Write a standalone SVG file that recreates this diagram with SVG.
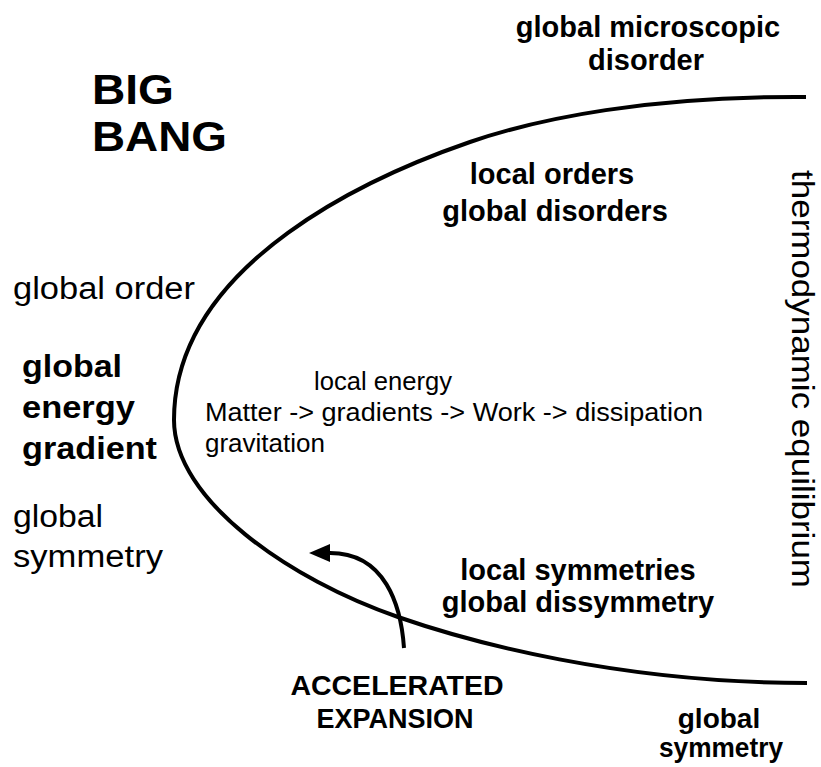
<svg xmlns="http://www.w3.org/2000/svg" width="821" height="767" viewBox="0 0 821 767">
<style>
text { font-family: "Liberation Sans", Arial, sans-serif; fill: #000; }
.b { font-weight: bold; }
.c { text-anchor: middle; }
.line { fill: none; stroke: #000; stroke-width: 4; }
</style>
<defs>
<marker id="ah" markerUnits="userSpaceOnUse" viewBox="0 -10 24 20" markerWidth="24" markerHeight="20" refX="0" refY="0" orient="auto">
<path d="M0,-9 L21,0 L0,9 z" fill="#000"/>
</marker>
</defs>
<rect width="821" height="767" fill="#fff"/>
<g id="connectors">
<path id="evolution-curve" class="line" d="M 806,97 C 650,96 540,118 470,142 C 380,173 174,260 174,420 C 174,500 290,580 398,617 C 470,642 620,683 807,683"/>
<path id="expansion-arrow" class="line" d="M 404,648 C 401,605 385,553 330,553" marker-end="url(#ah)"/>
</g>
<g id="big-bang">
<text class="b" x="92" y="104" font-size="42" textLength="82" lengthAdjust="spacingAndGlyphs">BIG</text>
<text class="b" x="92" y="151" font-size="42" textLength="135" lengthAdjust="spacingAndGlyphs">BANG</text>
</g>
<g id="global-micro-disorder">
<text class="b c" x="648" y="37" font-size="29">global microscopic</text>
<text class="b c" x="646" y="70" font-size="29">disorder</text>
</g>
<g id="local-orders">
<text class="b c" x="552" y="184" font-size="29">local orders</text>
<text class="b c" x="555" y="221" font-size="29">global disorders</text>
</g>
<g id="global-order">
<text x="13" y="299" font-size="31" textLength="182" lengthAdjust="spacingAndGlyphs">global order</text>
</g>
<g id="global-energy-gradient">
<text class="b" x="22" y="377" font-size="31" textLength="100" lengthAdjust="spacingAndGlyphs">global</text>
<text class="b" x="22" y="418" font-size="31" textLength="113" lengthAdjust="spacingAndGlyphs">energy</text>
<text class="b" x="22" y="459" font-size="31" textLength="135" lengthAdjust="spacingAndGlyphs">gradient</text>
</g>
<g id="global-symmetry-left">
<text x="13" y="527" font-size="31" textLength="90" lengthAdjust="spacingAndGlyphs">global</text>
<text x="13" y="567" font-size="31" textLength="150" lengthAdjust="spacingAndGlyphs">symmetry</text>
</g>
<g id="local-energy">
<text x="314" y="390" font-size="26" textLength="138" lengthAdjust="spacingAndGlyphs">local energy</text>
<text x="205" y="421" font-size="26" textLength="498" lengthAdjust="spacingAndGlyphs">Matter -&gt; gradients -&gt; Work -&gt; dissipation</text>
<text x="205" y="452" font-size="26" textLength="120" lengthAdjust="spacingAndGlyphs">gravitation</text>
</g>
<g id="local-symmetries">
<text class="b c" x="578" y="580" font-size="29">local symmetries</text>
<text class="b c" x="578" y="612" font-size="29">global dissymmetry</text>
</g>
<g id="accelerated-expansion">
<text class="b c" x="397" y="695" font-size="28.5">ACCELERATED</text>
<text class="b c" x="395" y="728" font-size="27">EXPANSION</text>
</g>
<g id="global-symmetry-right">
<text class="b c" x="719" y="728" font-size="28">global</text>
<text class="b c" x="721" y="757" font-size="28" textLength="124" lengthAdjust="spacingAndGlyphs">symmetry</text>
</g>
<g id="thermodynamic-equilibrium">
<text transform="translate(792,170) rotate(90)" font-size="31" textLength="418" lengthAdjust="spacingAndGlyphs">thermodynamic equilibrium</text>
</g>
</svg>
